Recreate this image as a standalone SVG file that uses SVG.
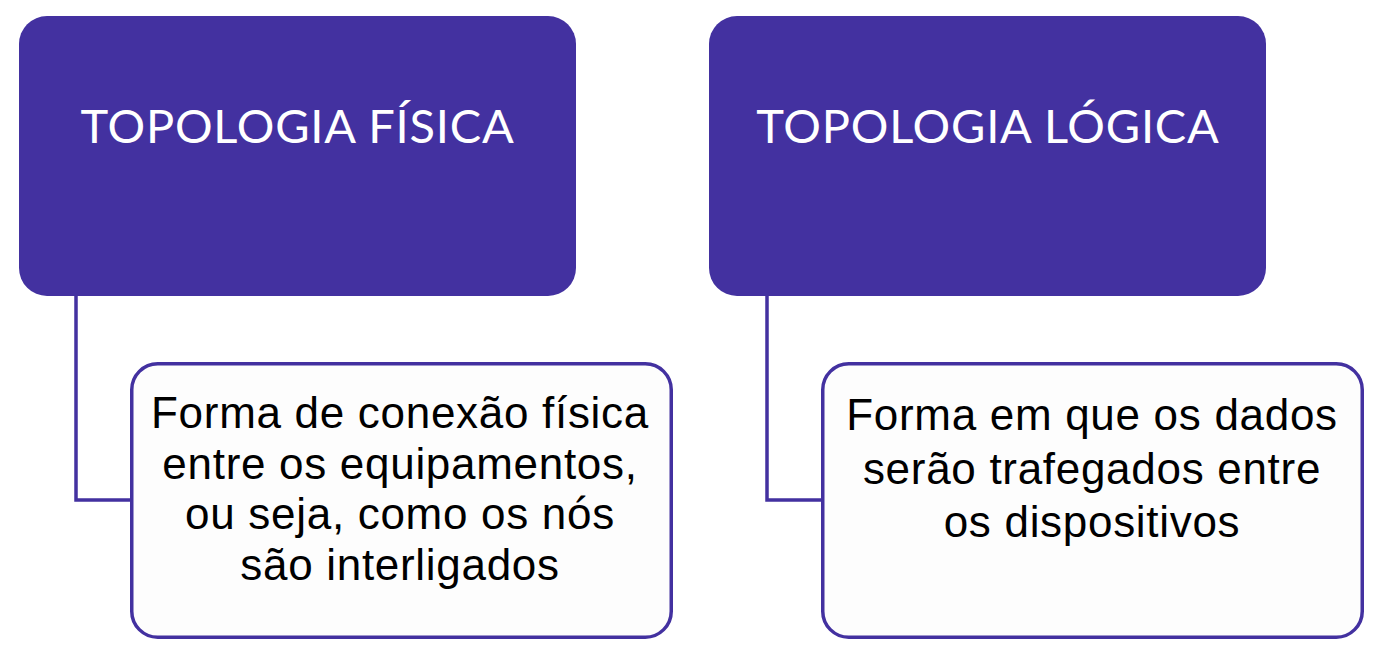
<svg xmlns="http://www.w3.org/2000/svg" width="1386" height="658" viewBox="0 0 1386 658">
<style>
.head{fill:#4331A0;}
.sub{fill:#FDFDFD;stroke:#4331A0;stroke-width:3.5;}
.conn{fill:none;stroke:#4331A0;stroke-width:3.5;}
.ht{font-family:Lato,"Noto Sans",sans-serif;font-size:47px;letter-spacing:0.8px;fill:#FFFFFF;text-anchor:middle;}
.bt{font-family:"Liberation Sans",Arial,sans-serif;font-size:44px;letter-spacing:0.7px;fill:#000000;text-anchor:middle;}
</style>
<rect width="1386" height="658" fill="#FFFFFF"/>
<g id="connectors">
<polyline class="conn" points="76,294 76,500 132,500"/>
<polyline class="conn" points="767,294 767,500 823,500"/>
</g>
<g id="fisica">
<rect class="head" x="19" y="16" width="557" height="280" rx="28"/>
<text class="ht" x="297.5" y="143">TOPOLOGIA FÍSICA</text>
</g>
<g id="logica">
<rect class="head" x="709" y="16" width="557" height="280" rx="28"/>
<text class="ht" x="988" y="143">TOPOLOGIA LÓGICA</text>
</g>
<g id="fisica-desc">
<rect class="sub" x="131.75" y="363.75" width="539.5" height="273.5" rx="26"/>
<text class="bt" x="400" y="428">Forma de conexão física</text>
<text class="bt" x="400" y="478.5">entre os equipamentos,</text>
<text class="bt" x="400" y="529">ou seja, como os nós</text>
<text class="bt" x="400" y="579.5">são interligados</text>
</g>
<g id="logica-desc">
<rect class="sub" x="822.75" y="363.75" width="539.5" height="273.5" rx="26"/>
<text class="bt" x="1092" y="430">Forma em que os dados</text>
<text class="bt" x="1092" y="483.5">serão trafegados entre</text>
<text class="bt" x="1092" y="537">os dispositivos</text>
</g>
</svg>
